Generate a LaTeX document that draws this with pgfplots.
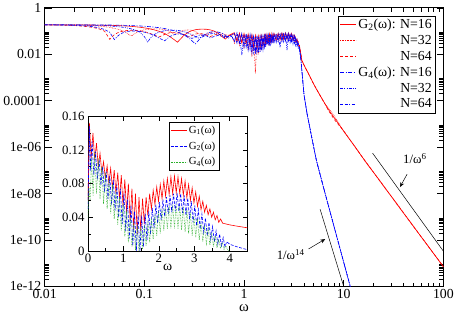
\documentclass[border=0pt]{standalone}
\usepackage{pgfplots}
\pgfplotsset{compat=1.18}
\usepackage{pgfplotstable}
\usepackage{fontspec}
\setmainfont{Liberation Serif}
\usetikzlibrary{arrows.meta}

\definecolor{gred}{RGB}{255,0,0}
\definecolor{gblue}{RGB}{0,0,255}
\definecolor{ggreen}{RGB}{40,175,40}

% main panel: G2 (A,B,C = N=16,32,64) and G4 (D,E,F = N=16,32,64)
\pgfplotstableread{
x A B C D E F
0.01 .185 .185 .184 .185 .185 .185
0.015 .185 .184 .180 .185 .184 .182
0.02 .184 .182 .172 .185 .183 .176
0.025 .183 .178 .160 .185 .181 .167
0.03 .182 .172 .145 .184 .178 .155
0.035 .180 .164 .125 .184 .175 .138
0.04 .178 .154 .098 .183 .171 .116
0.045 .176 .143 .044 .182 .166 .088
0.05 .174 .131 .070 .181 .160 .043
0.055 .171 .118 .088 .180 .154 .065
0.06 .168 .104 .098 .178 .147 .082
0.065 .165 .090 .104 .176 .139 .092
0.07 .162 .070 .107 .174 .131 .098
0.075 .158 .062 .108 .172 .122 .100
0.08 .154 .078 .107 .170 .112 .100
0.09 .146 .100 .102 .166 .090 .097
0.1 .137 .113 .094 .161 .058 .090
0.108 .130 .119 .086 .157 .033 .082
0.115 .123 .122 .078 .153 .050 .075
0.125 .113 .124 .068 .148 .070 .066
0.14 .098 .123 .055 .140 .090 .050
0.16 .078 .116 .072 .128 .104 .038
0.18 .058 .098 .085 .115 .110 .058
0.2 .042 .072 .088 .102 .110 .070
0.215 .033 .080 .086 .092 .107 .074
0.23 .045 .095 .080 .082 .102 .075
0.25 .066 .108 .070 .068 .094 .070
0.28 .092 .112 .055 .050 .080 .058
0.3 .104 .108 .064 .038 .070 .048
0.325 .114 .095 .074 .028 .058 .055
0.35 .119 .078 .078 .040 .050 .065
0.38 .121 .060 .076 .060 .055 .068
0.42 .119 .075 .068 .080 .068 .062
0.46 .112 .088 .058 .090 .076 .050
0.5 .100 .093 .068 .094 .078 .058
0.55 .080 .090 .074 .090 .075 .065
0.6 .058 .080 .068 .080 .066 .060
0.65 .045 .070 .058 .065 .055 .050
0.7 .060 .065 .066 .050 .060 .058
0.75 .075 .070 .070 .060 .066 .062
0.8 .085 .030 .075 .040 .080 .035
0.85 .035 .080 .040 .085 .030 .072
0.9 .082 .025 .072 .030 .075 .030
0.95 .030 .077 .035 .080 .009 .070
1.0 .078 .020 .070 .020 .072 .025
1.05 .028 .073 .030 .075 .020 .066
1.1 .074 .015 .066 .015 .068 .020
1.15 .022 .068 .026 .070 .016 .062
1.2 .068 .008 .062 .012 .062 .016
1.25 .018 .062 .022 .064 .012 .058
1.3 .063 .0015 .058 .010 .058 .014
1.35 .015 .058 .020 .060 .010 .055
1.4 .060 .010 .056 .012 .055 .015
1.45 .018 .057 .022 .058 .012 .054
1.5 .062 .016 .058 .015 .056 .018
1.55 .022 .060 .026 .060 .016 .056
1.6 .066 .022 .062 .020 .060 .022
1.65 .026 .064 .030 .064 .020 .060
1.7 .070 .027 .066 .025 .064 .026
1.75 .030 .068 .034 .068 .024 .063
1.8 .073 .030 .069 .028 .067 .029
1.85 .033 .071 .037 .070 .027 .066
1.9 .076 .033 .072 .030 .070 .032
1.95 .036 .074 .040 .073 .030 .068
2.0 .078 .036 .074 .033 .072 .034
2.1 .040 .076 .042 .072 .032 .070
2.2 .080 .038 .076 .035 .074 .036
2.3 .042 .078 .045 .074 .020 .072
2.4 .082 .040 .078 .036 .076 .038
2.5 .044 .080 .046 .075 .034 .073
2.6 .083 .041 .079 .036 .076 .038
2.7 .044 .080 .046 .074 .015 .072
2.8 .082 .040 .078 .035 .075 .037
2.9 .043 .078 .045 .072 .032 .070
3.0 .078 .038 .074 .033 .070 .035
3.1 .040 .070 .042 .064 .028 .062
3.2 .065 .034 .062 .030 .060 .031
3.3 .035 .055 .036 .048 .024 .050
3.4 .045 .028 .046 .022 .042 .024
3.5 .025 .035 .027 .028 .018 .030
3.6 .024 .018 .022 .016 .020 .015
3.7 .011 .012 .012 .0076 .0075 .0077
3.8 .0053 .0053 .0054 .0021 .0021 .0021
3.9 4.3e-3 4.3e-3 4.3e-3 6e-4 6e-4 6e-4
4.0 3.4e-3 3.4e-3 3.4e-3 1.8e-4 1.8e-4 1.8e-4
4.3 1.87e-3 1.87e-3 1.87e-3 2.6e-5 2.6e-5 2.6e-5
4.54 1.18e-3 1.18e-3 1.18e-3 8.1e-6 8.1e-6 8.1e-6
5 5.2e-4 5.2e-4 5.2e-4 1.0e-6 1.0e-6 1.0e-6
5.32 3.2e-4 3.2e-4 3.2e-4 2.7e-7 2.7e-7 2.7e-7
6 1.3e-4 1.3e-4 1.3e-4 3.8e-8 3.8e-8 3.8e-8
6.38 8.3e-5 8.3e-5 8.3e-5 1.4e-8 1.4e-8 1.4e-8
7 4.3e-5 4.8e-5 3.9e-5 3.2e-9 3.2e-9 3.2e-9
8 1.9e-5 2.3e-5 1.6e-5 3.8e-10 3.8e-10 3.8e-10
10 4.9e-6 4.9e-6 4.9e-6 1.1e-11 1.1e-11 1.1e-11
11.8 1.83e-6 1.83e-6 1.83e-6 8e-13 8e-13 8e-13
13 1.03e-6 1.03e-6 1.03e-6 1.7e-13 1.7e-13 1.7e-13
16.2 2.7e-7 2.7e-7 2.7e-7 nan nan nan
20 8e-8 8e-8 8e-8 nan nan nan
30 7.6e-9 7.6e-9 7.6e-9 nan nan nan
50 3.9e-10 3.9e-10 3.9e-10 nan nan nan
70 5.6e-11 5.6e-11 5.6e-11 nan nan nan
100 7.1e-12 7.1e-12 7.1e-12 nan nan nan
}\mainG

% inset: G1
\pgfplotstableread{
w y
0.00 0.060
0.04 0.152
0.09 0.110
0.14 0.140
0.19 0.108
0.24 0.128
0.29 0.100
0.34 0.116
0.39 0.093
0.44 0.106
0.49 0.086
0.54 0.101
0.59 0.080
0.64 0.098
0.69 0.074
0.74 0.096
0.79 0.068
0.84 0.093
0.89 0.061
0.94 0.090
0.99 0.053
1.04 0.085
1.09 0.045
1.14 0.080
1.19 0.036
1.24 0.074
1.29 0.025
1.34 0.068
1.39 0.020
1.44 0.064
1.49 0.024
1.54 0.062
1.59 0.032
1.64 0.064
1.69 0.042
1.74 0.068
1.79 0.050
1.84 0.072
1.89 0.055
1.94 0.076
1.99 0.059
2.04 0.079
2.09 0.062
2.14 0.083
2.19 0.065
2.24 0.086
2.29 0.067
2.34 0.088
2.39 0.068
2.44 0.089
2.49 0.069
2.54 0.088
2.59 0.068
2.64 0.086
2.69 0.066
2.74 0.083
2.79 0.063
2.84 0.079
2.89 0.060
2.94 0.075
2.99 0.057
3.04 0.070
3.09 0.053
3.14 0.065
3.19 0.049
3.24 0.059
3.29 0.046
3.34 0.054
3.39 0.043
3.44 0.050
3.49 0.040
3.54 0.046
3.59 0.037
3.64 0.042
3.69 0.034
3.74 0.038
3.80 0.033
3.90 0.032
4.00 0.031
4.20 0.0295
4.50 0.0275
}\insetA

% inset: G2
\pgfplotstableread{
w y
0.00 0.050
0.04 0.148
0.065 0.095
0.115 0.130
0.165 0.090
0.215 0.118
0.265 0.085
0.315 0.108
0.365 0.078
0.415 0.100
0.465 0.070
0.515 0.094
0.565 0.062
0.615 0.089
0.665 0.055
0.715 0.084
0.765 0.048
0.815 0.079
0.865 0.040
0.915 0.074
0.965 0.032
1.015 0.068
1.065 0.024
1.115 0.061
1.165 0.015
1.215 0.054
1.265 0.006
1.315 0.047
1.365 0.000
1.415 0.042
1.465 0.000
1.515 0.042
1.565 0.005
1.615 0.044
1.665 0.013
1.715 0.047
1.765 0.020
1.815 0.051
1.865 0.027
1.915 0.055
1.965 0.033
2.015 0.058
2.065 0.037
2.115 0.061
2.165 0.041
2.215 0.064
2.265 0.044
2.315 0.066
2.365 0.046
2.415 0.068
2.465 0.047
2.515 0.069
2.565 0.047
2.615 0.068
2.665 0.045
2.715 0.066
2.765 0.042
2.815 0.063
2.865 0.038
2.915 0.059
2.965 0.034
3.015 0.054
3.065 0.030
3.115 0.049
3.165 0.026
3.215 0.044
3.265 0.022
3.315 0.039
3.365 0.018
3.415 0.034
3.465 0.014
3.515 0.029
3.565 0.011
3.615 0.024
3.665 0.008
3.715 0.020
3.765 0.006
3.815 0.016
3.865 0.005
3.915 0.011
4.000 0.008
4.200 0.005
4.500 0.0015
}\insetB

% inset: G4
\pgfplotstableread{
w y
0.00 0.040
0.03 0.075
0.06 0.060
0.10 0.110
0.145 0.065
0.19 0.118
0.24 0.068
0.29 0.110
0.34 0.062
0.39 0.100
0.44 0.056
0.49 0.093
0.54 0.050
0.59 0.086
0.64 0.044
0.69 0.079
0.74 0.038
0.79 0.072
0.84 0.031
0.89 0.064
0.94 0.024
0.99 0.056
1.04 0.017
1.09 0.048
1.14 0.010
1.19 0.040
1.24 0.005
1.29 0.034
1.34 0.001
1.39 0.030
1.44 0.000
1.49 0.029
1.54 0.002
1.59 0.031
1.64 0.006
1.69 0.035
1.74 0.010
1.79 0.039
1.84 0.014
1.89 0.043
1.94 0.018
1.99 0.047
2.04 0.021
2.09 0.050
2.14 0.024
2.19 0.052
2.24 0.026
2.29 0.054
2.34 0.027
2.39 0.055
2.44 0.027
2.49 0.055
2.54 0.026
2.59 0.054
2.64 0.025
2.69 0.052
2.74 0.023
2.79 0.049
2.84 0.021
2.89 0.046
2.94 0.018
2.99 0.042
3.04 0.016
3.09 0.038
3.14 0.013
3.19 0.034
3.24 0.011
3.29 0.030
3.34 0.009
3.39 0.026
3.44 0.007
3.49 0.022
3.54 0.005
3.59 0.018
3.64 0.004
3.69 0.014
3.74 0.003
3.79 0.010
3.84 0.002
3.89 0.006
3.95 0.001
4.00 0.000
}\insetC

\begin{document}
\begin{tikzpicture}
\begin{axis}[
  scale only axis, width=405pt, height=283pt,
  xmode=log, ymode=log,
  xmin=0.01, xmax=100, ymin=1e-12, ymax=1,
  xtick={0.01,0.1,1,10,100},
  xticklabels={0.01,0.1,1,10,100},
  minor xtick={0.02,0.03,0.04,0.05,0.06,0.07,0.08,0.09,0.2,0.3,0.4,0.5,0.6,0.7,0.8,0.9,2,3,4,5,6,7,8,9,20,30,40,50,60,70,80,90},
  ytick={1e-12,1e-10,1e-8,1e-6,1e-4,1e-2,1},
  yticklabels={1e-12,1e-10,1e-08,1e-06,0.0001,0.01,1},
  minor ytick={2e-12,3e-12,4e-12,5e-12,6e-12,7e-12,8e-12,9e-12,
    2e-10,3e-10,4e-10,5e-10,6e-10,7e-10,8e-10,9e-10,
    2e-8,3e-8,4e-8,5e-8,6e-8,7e-8,8e-8,9e-8,
    2e-6,3e-6,4e-6,5e-6,6e-6,7e-6,8e-6,9e-6,
    2e-4,3e-4,4e-4,5e-4,6e-4,7e-4,8e-4,9e-4,
    2e-2,3e-2,4e-2,5e-2,6e-2,7e-2,8e-2,9e-2},
  tick align=inside,
  major tick length=7pt, minor tick length=4pt,
  tick style={black, line width=0.6pt},
  axis line style={line width=0.8pt},
  ticklabel style={font=\fontsize{14}{14}\selectfont},
  xticklabel style={yshift=1pt},
  xlabel={ω},
  xlabel style={font=\fontsize{15}{15}\selectfont, inner sep=0pt, yshift=-3pt},
  every axis plot/.append style={line width=0.6pt},
  legend image code/.code={\draw[#1] (0pt,0pt) -- (16pt,0pt);},
  legend cell align=right,
  legend style={at={(0.980,0.972)}, anchor=north east,
    font=\fontsize{14}{14}\selectfont, draw=black,
    inner sep=1.5pt, row sep=1.2pt},
]
\addplot[gred] table[x=x, y=A] {\mainG};
\addlegendentry{G\textsubscript{2}(ω): N=16}
\addplot[gred, densely dotted] table[x=x, y=B] {\mainG};
\addlegendentry{N=32}
\addplot[gred, dash pattern=on 3pt off 2pt] table[x=x, y=C] {\mainG};
\addlegendentry{N=64}
\addplot[gblue, dash pattern=on 4pt off 1.5pt on 1pt off 1.5pt] table[x=x, y=D] {\mainG};
\addlegendentry{G\textsubscript{4}(ω): N=16}
\addplot[gblue, dash pattern=on 3pt off 1.2pt on 1pt off 1.2pt on 1pt off 1.2pt] table[x=x, y=E] {\mainG};
\addlegendentry{N=32}
\addplot[gblue, dash pattern=on 3pt off 1.5pt on 3pt off 1.5pt on 1pt off 1.5pt] table[x=x, y=F] {\mainG};
\addlegendentry{N=64}
\addplot[black, forget plot, line width=0.5pt] coordinates {(19.5,5.5e-7) (100,3.3e-11)};
\addplot[black, forget plot, line width=0.5pt] coordinates {(5.8,2.1e-9) (10,1e-12)};
\node[font=\fontsize{13}{13}\selectfont] at (axis cs:51.7,3.2e-7) {1/ω\textsuperscript{6}};
\draw[-{Stealth[length=5pt,width=4pt]}, line width=0.5pt] (axis cs:43.2,6.8e-8) -- (axis cs:36.7,1.9e-8);
\node[font=\fontsize{13}{13}\selectfont] at (axis cs:2.94,2.3e-11) {1/ω\textsuperscript{14}};
\draw[-{Stealth[length=5pt,width=4pt]}, line width=0.5pt] (axis cs:4.44,4.1e-11) -- (axis cs:6.53,1.1e-10);
\end{axis}

\begin{axis}[
  at={(44pt,36pt)}, anchor=south west,
  scale only axis, width=162pt, height=137pt,
  xmin=0, xmax=4.5, ymin=0, ymax=0.16,
  xtick={0,1,2,3,4}, xticklabels={0,1,2,3,4},
  minor xtick={0.5,1.5,2.5,3.5},
  ytick={0,0.04,0.08,0.12,0.16},
  yticklabels={0,0.04,0.08,0.12,0.16},
  minor ytick={0.02,0.06,0.10,0.14},
  tick align=inside,
  major tick length=5pt, minor tick length=3pt,
  tick style={black, line width=0.6pt},
  axis line style={line width=0.8pt},
  axis background/.style={fill=white},
  ticklabel style={font=\fontsize{13}{13}\selectfont},
  xlabel={ω},
  xlabel style={font=\fontsize{14}{14}\selectfont, inner sep=0pt, yshift=3pt},
  every axis plot/.append style={line width=0.6pt},
  legend image code/.code={\draw[#1] (0pt,0pt) -- (16pt,0pt);},
  legend cell align=left,
  legend style={at={(0.821,0.956)}, anchor=north east,
    font=\fontsize{11}{11}\selectfont, draw=black,
    inner sep=1.5pt, row sep=3pt},
]
\addplot[gred] table[x=w, y=y] {\insetA};
\addlegendentry{G\textsubscript{1}(ω)}
\addplot[gblue, dash pattern=on 3pt off 1.5pt] table[x=w, y=y] {\insetB};
\addlegendentry{G\textsubscript{2}(ω)}
\addplot[ggreen, densely dotted] table[x=w, y=y] {\insetC};
\addlegendentry{G\textsubscript{4}(ω)}
\end{axis}
\path ([yshift=-3pt]current bounding box.south);
\end{tikzpicture}
\end{document}
